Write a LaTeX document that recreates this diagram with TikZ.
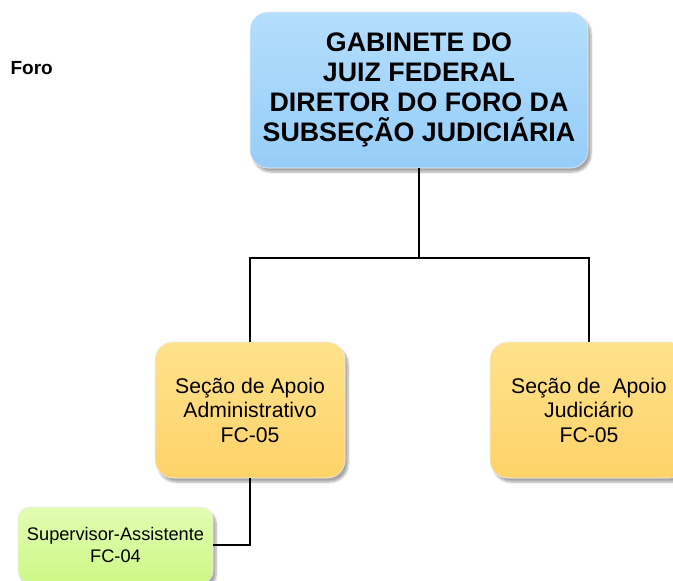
\documentclass[tikz,border=0pt]{standalone}
\usepackage{fontspec}
\setmainfont{Liberation Sans}
\usepackage{tikz}
\usetikzlibrary{shadows,shadows.blur}
\definecolor{caixaazul}{RGB}{150,205,248}
\definecolor{caixaazulclara}{RGB}{180,222,252}
\definecolor{caixaamarela}{RGB}{254,210,104}
\definecolor{caixaamarelaclara}{RGB}{255,226,140}
\definecolor{caixaverde}{RGB}{205,248,135}
\definecolor{caixaverdeclara}{RGB}{226,252,178}

\begin{document}
\begin{tikzpicture}[x=1pt, y=-1pt,
	caixa/.style={rounded corners=18pt, draw=white!85!gray, line width=0.6pt,
		align=center, inner sep=0pt, text=black,
		blur shadow={shadow xshift=3pt, shadow yshift=-4pt, shadow blur steps=6, shadow opacity=35}},
	linha/.style={line width=1.3pt, black}]
	\useasboundingbox (0,0) rectangle (673,581);
	\clip (0,0) rectangle (673,581);
	\draw (7,68) node[anchor=west, font=\fontsize{19}{22}\selectfont\bfseries] (foro) {Foro};
	\draw (419,90) node[caixa, minimum width=338pt, minimum height=156pt,
		top color=caixaazulclara, bottom color=caixaazul,
		font=\fontsize{26.8}{30}\selectfont\bfseries] (gabinete)
		{GABINETE DO\\JUIZ FEDERAL\\DIRETOR DO FORO DA\\SUBSEÇÃO JUDICIÁRIA};
	\draw (250,410) node[caixa, minimum width=190pt, minimum height=136pt,
		top color=caixaamarelaclara, bottom color=caixaamarela,
		font=\fontsize{21.2}{24.5}\selectfont] (administrativo)
		{Seção de Apoio\\Administrativo\\FC-05};
	\draw (589,410) node[caixa, minimum width=198pt, minimum height=136pt,
		top color=caixaamarelaclara, bottom color=caixaamarela,
		font=\fontsize{21.2}{24.5}\selectfont] (judiciario)
		{Seção de\ \ Apoio\\Judiciário\\FC-05};
	\draw (115.5,545) node[caixa, rounded corners=12pt, minimum width=195pt, minimum height=76pt,
		top color=caixaverdeclara, bottom color=caixaverde,
		font=\fontsize{18.2}{22}\selectfont] (supervisor)
		{Supervisor-Assistente\\FC-04};
	\coordinate (barra) at (419,258);
	\draw[linha] (gabinete.south) -- (barra);
	\draw[linha] (administrativo.north) |- (barra) -| (judiciario.north);
	\draw[linha] (administrativo.south) |- (supervisor.east);
\end{tikzpicture}
\end{document}
